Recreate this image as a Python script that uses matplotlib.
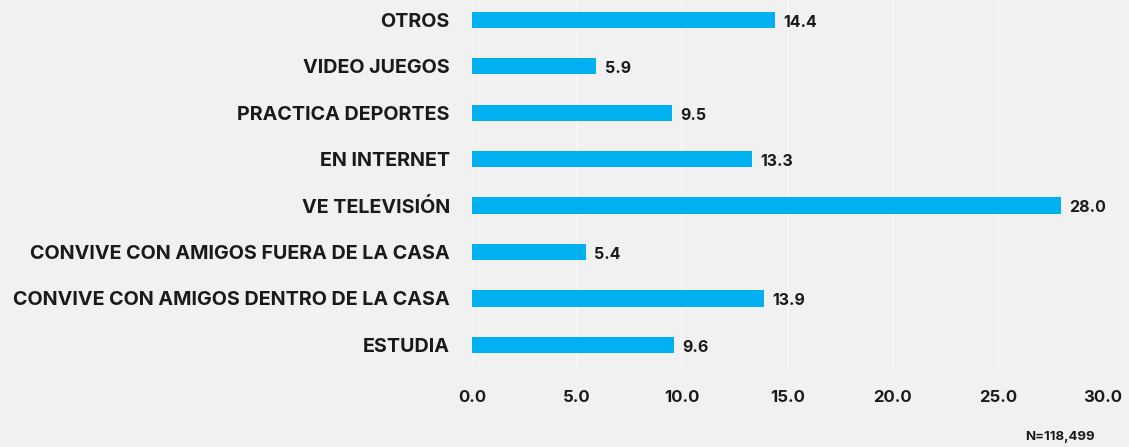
import matplotlib
matplotlib.use("Agg")
import matplotlib.pyplot as plt

categories = ["ESTUDIA", "CONVIVE CON AMIGOS DENTRO DE LA CASA",
              "CONVIVE CON AMIGOS FUERA DE LA CASA", "VE TELEVISIÓN",
              "EN INTERNET", "PRACTICA DEPORTES", "VIDEO JUEGOS", "OTROS"]
values = [9.6, 13.9, 5.4, 28.0, 13.3, 9.5, 5.9, 14.4]
xticks = [0, 5, 10, 15, 20, 25, 30]
note = "N=118,499"

bg = "#F1F1F1"
bar_color = "#00B0F0"
txt = "#1A1A1A"
fam = ["Inter", "DejaVu Sans"]

fig = plt.figure(figsize=(11.29, 4.47), dpi=100, facecolor=bg)
ax = fig.add_axes([472/1129, 1-368/447, (1103-472)/1129, 368/447])
ax.set_facecolor(bg)

y = list(range(len(categories)))
ax.barh(y, values, height=0.35, color=bar_color, zorder=3)
for yi, v in zip(y, values):
    ax.text(v + 0.4, yi - 0.05, f"{v:.1f}", va="center", ha="left",
            fontsize=11.5, fontweight="bold", color=txt, family=fam)

ax.set_xlim(0, 30)
ax.set_ylim(-0.5, 7.43)
ax.set_yticks(y)
ax.set_yticklabels(categories, fontsize=14.2, fontweight="bold", color=txt, family=fam)
ax.set_xticks(xticks)
ax.set_xticklabels([f"{t:.1f}" for t in xticks], fontsize=12, fontweight="bold",
                   color=txt, family=fam)
ax.tick_params(axis="y", length=0, pad=16)
ax.tick_params(axis="x", length=0, pad=16)
ax.grid(axis="x", color="#F8F8F8", linewidth=1.2, zorder=0)
for s in ax.spines.values():
    s.set_visible(False)

fig.text(1060/1129, 1-437/447, note, ha="center", va="center", fontsize=9.5,
         fontweight="bold", color=txt, family=fam)

fig.savefig("out.png", dpi=100, facecolor=bg)
